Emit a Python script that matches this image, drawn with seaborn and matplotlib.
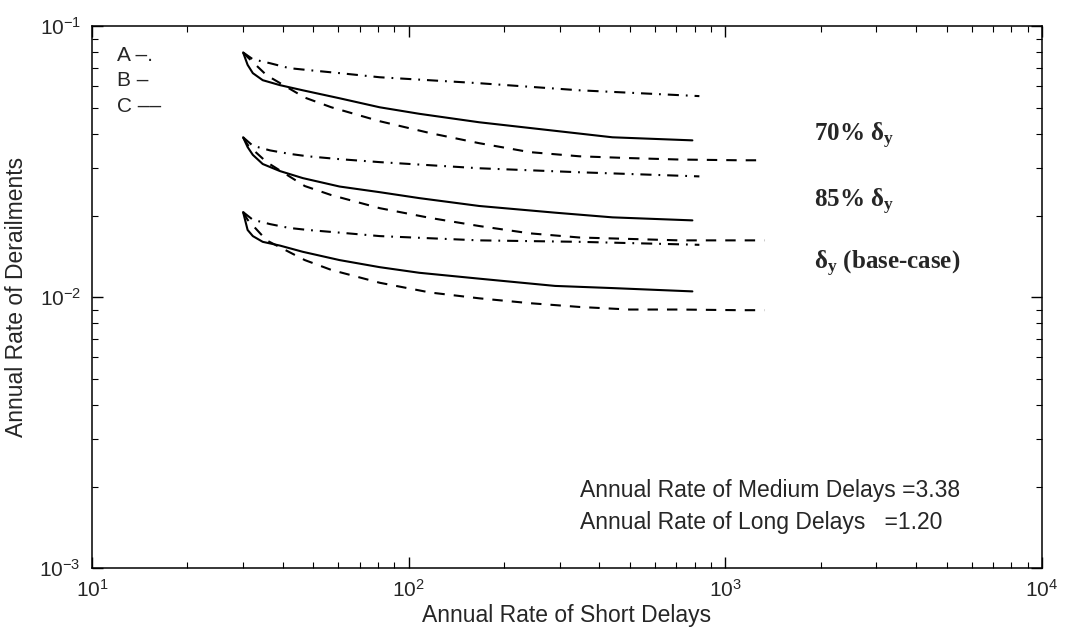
import numpy as np
import pandas as pd
import matplotlib
matplotlib.use("Agg")
import matplotlib.pyplot as plt
import seaborn as sns

# ---- data ----
# A: dash-dot, B: solid, C: dashed  (per the in-plot key)
xa = [30, 32.2, 36.5, 42, 48, 60.6, 81, 167, 346, 828]
a70 = [0.080, 0.0755, 0.073, 0.070, 0.0689, 0.0671, 0.0648, 0.0616, 0.058, 0.0552]
a85 = [0.0389, 0.0362, 0.0348, 0.0338, 0.0331, 0.0323, 0.0315, 0.0299, 0.0289, 0.0279]
abase = [0.0206, 0.0193, 0.0186, 0.0180, 0.0177, 0.0173, 0.0168, 0.0162, 0.0160, 0.0156]

xb = [30, 31, 32.2, 34.6, 39.2, 46.3, 60.5, 81, 108, 167, 290, 440, 787]
b70 = [0.080, 0.072, 0.0671, 0.0632, 0.0606, 0.058, 0.0542, 0.0502, 0.0475, 0.0442, 0.0411, 0.0389, 0.0379]
b85 = [0.0389, 0.0358, 0.0335, 0.0310, 0.0292, 0.0275, 0.0256, 0.0244, 0.0232, 0.0217, 0.0205, 0.0197, 0.0192]
bbase = [0.0206, 0.0177, 0.0168, 0.0160, 0.0155, 0.0147, 0.0137, 0.0129, 0.0123, 0.0117, 0.0110, 0.0108, 0.0105]

xc = [30, 31, 35.6, 47, 57, 81, 117, 167, 241, 346, 498, 716, 1107, 1328]
c70 = [0.080, 0.0769, 0.0659, 0.0545, 0.0502, 0.0446, 0.0403, 0.037, 0.0343, 0.0331, 0.0326, 0.0322, 0.0320, 0.0320]
c85 = [0.0389, 0.0365, 0.0315, 0.0257, 0.0238, 0.0213, 0.0196, 0.0183, 0.0172, 0.0166, 0.0164, 0.0162, 0.0162, 0.0162]
cbase = [0.0206, 0.0193, 0.0162, 0.0137, 0.0126, 0.0113, 0.0104, 0.0099, 0.0095, 0.0092, 0.0090, 0.0090, 0.00895, 0.00895]

group_labels = ["70% $\\mathdefault{δ_y}$", "85% $\\mathdefault{δ_y}$", "$\\mathdefault{δ_y}$ (base-case)"]
key_labels = ["A –.", "B –", "C ––"]
note_lines = ["Annual Rate of Medium Delays =3.38", "Annual Rate of Long Delays   =1.20"]

# ---- build long table ----
rows = []
for case, (ya, yb, yc) in zip(["70", "85", "base"], [(a70, b70, c70), (a85, b85, c85), (abase, bbase, cbase)]):
    for s, xs, ys in [("A", xa, ya), ("B", xb, yb), ("C", xc, yc)]:
        for x, y in zip(xs, ys):
            rows.append({"case": case, "series": s, "x": x, "y": y})
df = pd.DataFrame(rows)

sns.set_theme(style="ticks")
plt.rcParams['font.family'] = ['Liberation Sans', 'DejaVu Sans']
plt.rcParams['lines.scale_dashes'] = False
plt.rcParams['axes.linewidth'] = 1.1

fig = plt.figure(figsize=(10.65, 6.39), dpi=100)
fig.patch.set_facecolor("white")
ax = fig.add_axes([0.0864, 0.111, 0.892, 0.848])
ax.set_facecolor("white")

styles = {"A": (0, (8, 5, 1.3, 5)), "B": "-", "C": (0, (7.5, 6.5))}
for (case, s), sub in df.groupby(["case", "series"], sort=False):
    sns.lineplot(data=sub, x="x", y="y", ax=ax, color="black", linewidth=1.5,
                 linestyle=styles[s], sort=False, estimator=None, legend=False)

ax.set_xscale("log")
ax.set_yscale("log")
ax.set_xlim(10, 1e4)
ax.set_ylim(1e-3, 1e-1)

for sp in ax.spines.values():
    sp.set_visible(True)
    sp.set_color("black")
    sp.set_linewidth(1.1)

ax.tick_params(which="both", direction="in", top=True, right=True, color="black")
ax.tick_params(which="major", length=8, width=1.0, labelsize=15, pad=8)
ax.tick_params(which="minor", length=4, width=0.8)

ax.set_xlabel("Annual Rate of Short Delays", fontsize=16.5, labelpad=2)
ax.set_ylabel("Annual Rate of Derailments", fontsize=16.5, labelpad=8)

# right-side case labels
for lab, yf in zip(group_labels, [0.797, 0.675, 0.561]):
    ax.text(0.760, yf, lab, transform=ax.transAxes, fontsize=18, va="center", ha="left",
            family=["Liberation Serif", "DejaVu Serif"], fontweight="bold")

# line key (as plain text)
for lab, yf in zip(key_labels, [0.946, 0.900, 0.852]):
    ax.text(0.026, yf, lab, transform=ax.transAxes, fontsize=15, va="center", ha="left")

# notes
fig.canvas.draw()
t1 = ax.text(960 / 1065, 1 - 490 / 639, note_lines[0], transform=fig.transFigure,
             fontsize=16.5, va="center", ha="right")
fig.canvas.draw()
bb = t1.get_window_extent()
x_left = bb.x0 / fig.bbox.width
t1.set_ha("left")
t1.set_x(x_left)
ax.text(x_left, 1 - 523 / 639, note_lines[1], transform=fig.transFigure,
        fontsize=16.5, va="center", ha="left")

fig.savefig("out.png", dpi=100, facecolor="white")
